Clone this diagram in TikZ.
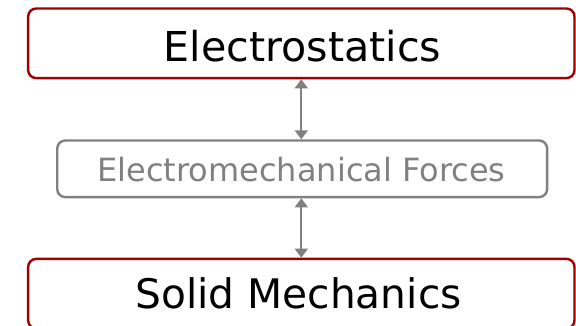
\documentclass[tikz,border=0pt]{standalone}
\usepackage{fontspec}
\setmainfont{DejaVu Sans}
\usetikzlibrary{arrows.meta}
\definecolor{boxred}{HTML}{A00000}
\definecolor{boxgray}{HTML}{808080}
\begin{document}
\begin{tikzpicture}[x=1pt,y=-1pt,
  bigbox/.style={draw=boxred, line width=2.4pt, rounded corners=8pt, inner sep=0pt},
  midbox/.style={draw=boxgray, line width=2.4pt, rounded corners=8pt, inner sep=0pt},
  biglabel/.style={anchor=base, inner sep=0pt, text=black},
  midlabel/.style={anchor=base, inner sep=0pt, font=\fontsize{32}{38}\selectfont, text=boxgray},
  link/.style={draw=boxgray, line width=1.8pt, {Triangle[length=9pt,width=13pt]}-{Triangle[length=9pt,width=13pt]}}
]
\useasboundingbox (0,0) rectangle (576,326);
\node[bigbox, minimum width=546.3pt, minimum height=69.6pt] (top) at (301.3,43.3) {};
\node[midbox, minimum width=489.9pt, minimum height=56.6pt] (mid) at (302.2,168.8) {};
\node[bigbox, minimum width=546.3pt, minimum height=69.6pt] (bot) at (301.3,293.7) {};
\node[biglabel, font=\fontsize{41.2}{48}\selectfont] (toptext) at (302.5,61.7) {Electrostatics};
\node[midlabel] (midtext) at (301.5,182) {Electromechanical Forces};
\node[biglabel, font=\fontsize{40.7}{48}\selectfont] (bottext) at (298.5,308) {Solid Mechanics};
\draw[link] (top.south) -- (top.south |- mid.north);
\draw[link] (bot.north |- mid.south) -- (bot.north);
\end{tikzpicture}
\end{document}
